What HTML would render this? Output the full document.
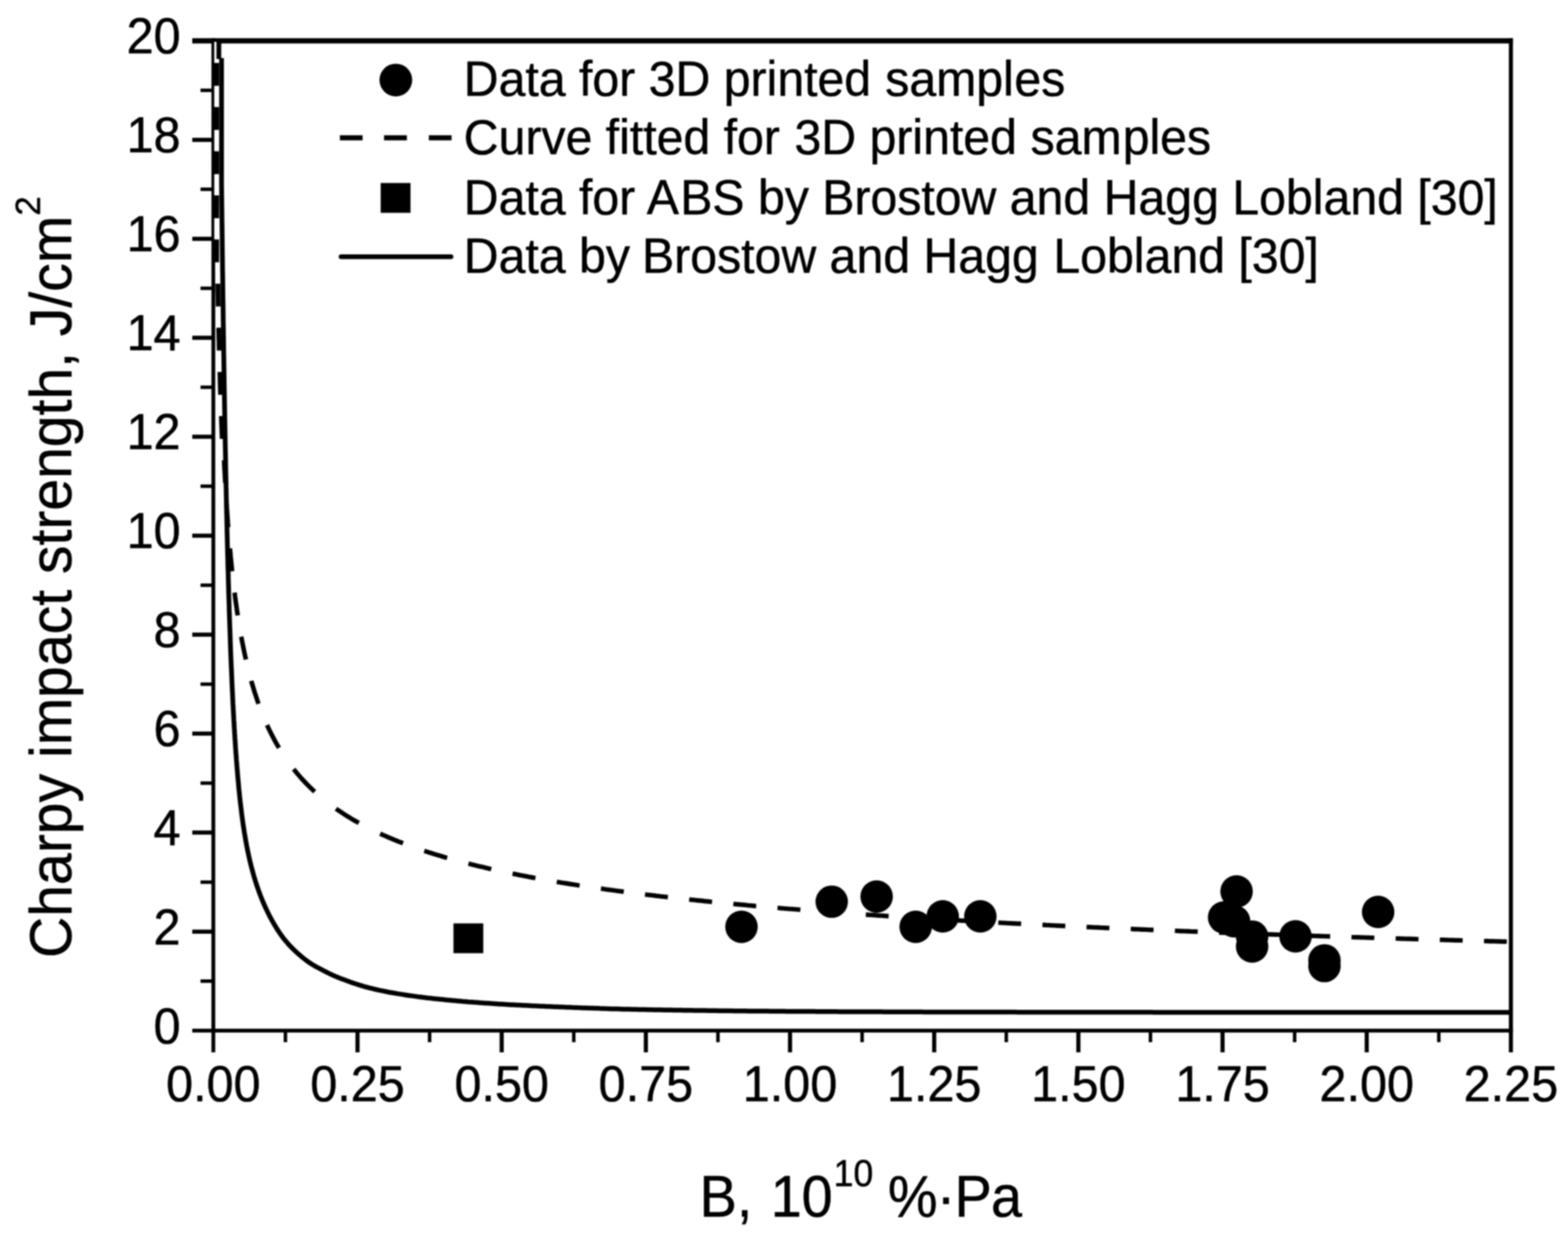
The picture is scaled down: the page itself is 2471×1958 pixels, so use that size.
<!DOCTYPE html>
<html lang="en">
<head>
<meta charset="utf-8">
<title>Charpy impact strength vs B</title>
<style>
html,body{margin:0;padding:0;background:#fff;}
body{width:2471px;height:1958px;overflow:hidden;}
svg{display:block;filter:blur(1.0px);}
</style>
</head>
<body>
<svg width="2471" height="1958" viewBox="0 0 2471 1958" font-family='"Liberation Sans", sans-serif' fill="#000">
<rect width="2471" height="1958" fill="#fff"/>
<defs><clipPath id="pc"><rect x="333.2" y="64.4" width="2047.8" height="1560.3"/></clipPath></defs>
<g stroke="#000" fill="none" stroke-linecap="butt">
<line x1="336.2" y1="60.2" x2="336.2" y2="1659" stroke-width="6.0"/>
<line x1="2381" y1="60.2" x2="2381" y2="1659" stroke-width="6.4"/>
<line x1="303" y1="1624.7" x2="2384.2" y2="1624.7" stroke-width="6.0"/>
<line x1="303" y1="64.4" x2="2384.2" y2="64.4" stroke-width="8.4"/>
<line x1="449.8" y1="1624.7" x2="449.8" y2="1643" stroke-width="5.5"/>
<line x1="563.4" y1="1624.7" x2="563.4" y2="1659" stroke-width="6.5"/>
<line x1="677" y1="1624.7" x2="677" y2="1643" stroke-width="5.5"/>
<line x1="790.6" y1="1624.7" x2="790.6" y2="1659" stroke-width="6.5"/>
<line x1="904.2" y1="1624.7" x2="904.2" y2="1643" stroke-width="5.5"/>
<line x1="1017.8" y1="1624.7" x2="1017.8" y2="1659" stroke-width="6.5"/>
<line x1="1131.4" y1="1624.7" x2="1131.4" y2="1643" stroke-width="5.5"/>
<line x1="1245" y1="1624.7" x2="1245" y2="1659" stroke-width="6.5"/>
<line x1="1358.6" y1="1624.7" x2="1358.6" y2="1643" stroke-width="5.5"/>
<line x1="1472.2" y1="1624.7" x2="1472.2" y2="1659" stroke-width="6.5"/>
<line x1="1585.8" y1="1624.7" x2="1585.8" y2="1643" stroke-width="5.5"/>
<line x1="1699.4" y1="1624.7" x2="1699.4" y2="1659" stroke-width="6.5"/>
<line x1="1813" y1="1624.7" x2="1813" y2="1643" stroke-width="5.5"/>
<line x1="1926.6" y1="1624.7" x2="1926.6" y2="1659" stroke-width="6.5"/>
<line x1="2040.2" y1="1624.7" x2="2040.2" y2="1643" stroke-width="5.5"/>
<line x1="2153.8" y1="1624.7" x2="2153.8" y2="1659" stroke-width="6.5"/>
<line x1="2267.4" y1="1624.7" x2="2267.4" y2="1643" stroke-width="5.5"/>
<line x1="316" y1="1546.7" x2="336.2" y2="1546.7" stroke-width="5.5"/>
<line x1="303" y1="1468.7" x2="336.2" y2="1468.7" stroke-width="6.5"/>
<line x1="316" y1="1390.7" x2="336.2" y2="1390.7" stroke-width="5.5"/>
<line x1="303" y1="1312.6" x2="336.2" y2="1312.6" stroke-width="6.5"/>
<line x1="316" y1="1234.6" x2="336.2" y2="1234.6" stroke-width="5.5"/>
<line x1="303" y1="1156.6" x2="336.2" y2="1156.6" stroke-width="6.5"/>
<line x1="316" y1="1078.6" x2="336.2" y2="1078.6" stroke-width="5.5"/>
<line x1="303" y1="1000.6" x2="336.2" y2="1000.6" stroke-width="6.5"/>
<line x1="316" y1="922.6" x2="336.2" y2="922.6" stroke-width="5.5"/>
<line x1="303" y1="844.6" x2="336.2" y2="844.6" stroke-width="6.5"/>
<line x1="316" y1="766.5" x2="336.2" y2="766.5" stroke-width="5.5"/>
<line x1="303" y1="688.5" x2="336.2" y2="688.5" stroke-width="6.5"/>
<line x1="316" y1="610.5" x2="336.2" y2="610.5" stroke-width="5.5"/>
<line x1="303" y1="532.5" x2="336.2" y2="532.5" stroke-width="6.5"/>
<line x1="316" y1="454.5" x2="336.2" y2="454.5" stroke-width="5.5"/>
<line x1="303" y1="376.5" x2="336.2" y2="376.5" stroke-width="6.5"/>
<line x1="316" y1="298.4" x2="336.2" y2="298.4" stroke-width="5.5"/>
<line x1="303" y1="220.4" x2="336.2" y2="220.4" stroke-width="6.5"/>
<line x1="316" y1="142.4" x2="336.2" y2="142.4" stroke-width="5.5"/>
</g>
<g clip-path="url(#pc)" fill="none">
<path d="M341.4 -3.9 L341.4 -0.8 L341.4 2.2 L341.4 5.3 L341.4 8.3 L341.4 11.4 L341.4 14.4 L341.4 17.5 L341.4 20.5 L341.4 23.6 L341.4 26.6 L341.4 29.7 M341.4 65.7 L341.4 68.7 L341.4 71.8 L341.4 74.8 L341.4 77.9 L341.4 80.9 L341.4 84 L341.4 87.1 L341.4 90.1 L341.4 93.2 L341.4 96.2 L341.4 99.3 M341.4 135.3 L341.4 138.3 L341.4 141.4 L341.4 144.4 L341.4 147.5 L341.4 150.5 L341.4 153.6 L341.4 156.6 L341.4 159.7 L341.4 162.7 L341.4 165.8 L341.4 168.8 M341.4 204.8 L341.4 207.9 L341.4 210.9 L341.4 214 L341.4 217.1 L341.4 220.1 L341.4 223.2 L341.4 226.2 L341.4 229.3 L341.4 232.3 L341.4 235.4 L341.4 238.4 M341.4 274.4 L341.4 277.5 L341.4 280.5 L341.4 283.6 L341.4 286.6 L341.4 289.7 L341.4 292.7 L341.4 295.8 L341.4 298.8 L341.4 301.9 L341.4 304.9 L341.4 308 M341.4 344 L341.4 347.1 L341.4 350.1 L341.4 353.2 L341.4 356.2 L341.4 359.3 L341.4 362.3 L341.4 365.4 L341.4 368.4 L341.4 371.5 L341.4 374.5 L341.4 377.6 M342.7 413.6 L342.7 416.6 L342.8 419.7 L342.8 422.7 L342.9 425.8 L342.9 428.8 L343 431.9 L343 435 L343.1 438 L343.1 441.1 L343.2 444.1 L343.3 447.2 M344 483.2 L344 486.2 L344.1 489.3 L344.2 492.3 L344.2 495.4 L344.3 498.4 L344.4 501.5 L344.4 504.5 L344.5 507.6 L344.6 510.6 L344.6 513.7 L344.7 516.7 M345.6 552.7 L345.7 555.8 L345.7 558.8 L345.8 561.9 L345.9 565 L346 568 L346.1 571.1 L346.1 574.1 L346.2 577.2 L346.3 580.2 L346.4 583.3 L346.5 586.3 M347.6 622.3 L347.7 625.4 L347.8 628.4 L347.9 631.5 L348 634.5 L348.1 637.6 L348.2 640.6 L348.3 643.7 L348.5 646.7 L348.6 649.8 L348.7 652.8 L348.8 655.9 M351.6 691.9 L351.7 695 L351.9 698 L352 701.1 L352.2 704.1 L352.3 707.2 L352.4 710.2 L352.6 713.3 L352.7 716.3 L352.9 719.4 L353 722.4 L353.1 725.5" stroke="#fff" stroke-width="7.5"/>
<path d="M353.1 725.5 L353.3 728.5 L353.4 731.5 L353.6 734.5 L353.7 737.5 L353.9 740.5 L354.1 743.5 L354.2 746.5 L354.4 749.5 L354.5 752.5 L354.7 755.5 L354.9 758.5 L355 761.5 M357.1 795.1 L357.3 798.1 L357.4 801.1 L357.7 804.1 L357.9 807.1 L358.1 810.1 L358.3 813.1 L358.5 816.1 L358.7 819.1 L358.9 822.1 L359.1 825.1 L359.4 828.1 L359.6 831.1 M362.3 864.6 L362.6 867.6 L362.9 870.6 L363.2 873.6 L363.4 876.6 L363.7 879.6 L364 882.6 L364.3 885.6 L364.6 888.6 L364.9 891.6 L365.2 894.6 L365.5 897.6 L365.8 900.6 M369.7 934.2 L370.1 937.2 L370.4 940.2 L370.8 943.2 L371.2 946.2 L371.6 949.2 L372 952.2 L372.5 955.2 L372.9 958.2 L373.3 961.2 L373.7 964.2 L374.2 967.2 L374.6 970.2 M380.2 1003.8 L380.8 1006.8 L381.3 1009.8 L381.9 1012.8 L382.5 1015.8 L383.1 1018.8 L383.7 1021.8 L384.3 1024.8 L384.9 1027.8 L385.6 1030.8 L386.2 1033.8 L386.9 1036.8 L387.5 1039.8 M396 1073.4 L396.8 1076.4 L397.7 1079.4 L398.6 1082.4 L399.5 1085.4 L400.4 1088.4 L401.3 1091.4 L402.3 1094.4 L403.3 1097.4 L404.3 1100.4 L405.3 1103.4 L406.3 1106.4 L407.4 1109.4 M420.9 1143 L422.2 1146 L423.6 1149 L425.1 1152 L426.5 1155 L428.1 1158 L429.6 1161 L431.2 1164 L432.8 1167 L434.4 1170 L436.1 1173 L437.9 1176 L439.6 1179 M462.8 1212.5 L465.2 1215.5 L467.6 1218.5 L470.2 1221.5 L472.8 1224.5 L475.4 1227.5 L478.2 1230.5 L481 1233.5 L483.9 1236.5 L486.9 1239.5 L489.9 1242.5 L492.9 1245.3 L495.9 1248.1 M529.5 1275 L532.5 1277.1 L535.5 1279.1 L538.5 1281.1 L541.5 1283.1 L544.5 1285 L547.5 1286.9 L550.5 1288.7 L553.5 1290.5 L556.5 1292.3 L559.5 1294 L562.5 1295.7 L565.5 1297.4 M599.1 1314.3 L602.1 1315.7 L605.1 1317 L608.1 1318.3 L611.1 1319.6 L614.1 1320.9 L617.1 1322.2 L620.1 1323.4 L623.1 1324.7 L626.1 1325.9 L629.1 1327.1 L632.1 1328.2 L635.1 1329.4 M668.6 1341.3 L671.6 1342.3 L674.6 1343.3 L677.6 1344.3 L680.6 1345.2 L683.6 1346.2 L686.6 1347.1 L689.6 1348 L692.6 1348.9 L695.6 1349.8 L698.6 1350.7 L701.6 1351.6 L704.6 1352.4 M738.2 1361.5 L741.2 1362.2 L744.2 1363 L747.2 1363.7 L750.2 1364.5 L753.2 1365.2 L756.2 1365.9 L759.2 1366.6 L762.2 1367.3 L765.2 1368 L768.2 1368.7 L771.2 1369.4 L774.2 1370.1 M807.8 1377.3 L810.8 1377.9 L813.8 1378.5 L816.8 1379.1 L819.8 1379.7 L822.8 1380.3 L825.8 1380.9 L828.8 1381.4 L831.8 1382 L834.8 1382.6 L837.8 1383.1 L840.8 1383.7 L843.8 1384.3 M877.4 1390.2 L880.4 1390.7 L883.4 1391.2 L886.4 1391.7 L889.4 1392.1 L892.4 1392.6 L895.4 1393.1 L898.4 1393.6 L901.4 1394.1 L904.4 1394.5 L907.4 1395 L910.4 1395.5 L913.4 1395.9 M947 1400.9 L950 1401.3 L953 1401.8 L956 1402.2 L959 1402.6 L962 1403 L965 1403.4 L968 1403.8 L971 1404.2 L974 1404.6 L977 1405 L980 1405.4 L983 1405.8 M1016.5 1410.1 L1019.5 1410.5 L1022.5 1410.8 L1025.5 1411.2 L1028.5 1411.5 L1031.5 1411.9 L1034.5 1412.3 L1037.5 1412.6 L1040.5 1413 L1043.5 1413.3 L1046.5 1413.7 L1049.5 1414 L1052.5 1414.3 M1086.1 1418 L1089.1 1418.4 L1092.1 1418.7 L1095.1 1419 L1098.1 1419.3 L1101.1 1419.6 L1104.1 1419.9 L1107.1 1420.2 L1110.1 1420.6 L1113.1 1420.9 L1116.1 1421.2 L1119.1 1421.5 L1122.1 1421.8 M1155.7 1425 L1158.7 1425.3 L1161.7 1425.6 L1164.7 1425.9 L1167.7 1426.2 L1170.7 1426.4 L1173.7 1426.7 L1176.7 1427 L1179.7 1427.3 L1182.7 1427.5 L1185.7 1427.8 L1188.7 1428.1 L1191.7 1428.3 M1225.3 1431.3 L1228.3 1431.5 L1231.3 1431.8 L1234.3 1432 L1237.3 1432.3 L1240.3 1432.5 L1243.3 1432.8 L1246.3 1433 L1249.3 1433.2 L1252.3 1433.5 L1255.3 1433.7 L1258.3 1434 L1261.3 1434.2 M1294.9 1436.8 L1298.1 1437.1 L1301.3 1437.3 L1304.5 1437.6 L1307.7 1437.8 L1311 1438 L1314.2 1438.3 L1317.4 1438.5 L1320.6 1438.8 L1323.9 1439 M1364.4 1441.9 L1367.4 1442.1 L1370.4 1442.3 L1373.4 1442.5 L1376.4 1442.7 L1379.4 1442.9 L1382.4 1443.1 L1385.4 1443.3 L1388.4 1443.5 L1391.4 1443.7 L1394.4 1443.9 L1397.4 1444.1 L1400.4 1444.3 M1434 1446.5 L1437 1446.6 L1440 1446.8 L1443 1447 L1446 1447.2 L1449 1447.4 L1452 1447.6 L1455 1447.8 L1458 1447.9 L1461 1448.1 L1464 1448.3 L1467 1448.5 L1470 1448.7 M1503.6 1450.7 L1506.6 1450.8 L1509.6 1451 L1512.6 1451.2 L1515.6 1451.3 L1518.6 1451.5 L1521.6 1451.7 L1524.6 1451.9 L1527.6 1452 L1530.6 1452.2 L1533.6 1452.4 L1536.6 1452.5 L1539.6 1452.7 M1573.2 1454.5 L1576.2 1454.7 L1579.2 1454.8 L1582.2 1455 L1585.2 1455.2 L1588.2 1455.3 L1591.2 1455.5 L1594.2 1455.6 L1597.2 1455.8 L1600.2 1455.9 L1603.2 1456.1 L1606.2 1456.2 L1609.2 1456.4 M1642.8 1458.1 L1645.8 1458.2 L1648.8 1458.4 L1651.8 1458.5 L1654.8 1458.7 L1657.8 1458.8 L1660.8 1459 L1663.8 1459.1 L1666.8 1459.3 L1669.8 1459.4 L1672.8 1459.6 L1675.8 1459.7 L1678.8 1459.8 M1712.3 1461.4 L1715.3 1461.6 L1718.3 1461.7 L1721.3 1461.8 L1724.3 1462 L1727.3 1462.1 L1730.3 1462.2 L1733.3 1462.4 L1736.3 1462.5 L1739.3 1462.6 L1742.3 1462.8 L1745.3 1462.9 L1748.3 1463 M1781.9 1464.5 L1784.9 1464.6 L1787.9 1464.8 L1790.9 1464.9 L1793.9 1465 L1796.9 1465.1 L1799.9 1465.3 L1802.9 1465.4 L1805.9 1465.5 L1808.9 1465.7 L1811.9 1465.8 L1814.9 1465.9 L1817.9 1466 M1851.5 1467.4 L1854.5 1467.5 L1857.5 1467.6 L1860.5 1467.8 L1863.5 1467.9 L1866.5 1468 L1869.5 1468.1 L1872.5 1468.2 L1875.5 1468.4 L1878.5 1468.5 L1881.5 1468.6 L1884.5 1468.7 L1887.5 1468.8 M1921.1 1470.1 L1924.1 1470.2 L1927.1 1470.3 L1930.1 1470.5 L1933.1 1470.6 L1936.1 1470.7 L1939.1 1470.8 L1942.1 1470.9 L1945.1 1471 L1948.1 1471.1 L1951.1 1471.2 L1954.1 1471.4 L1957.1 1471.5 M1990.7 1472.7 L1993.7 1472.8 L1996.7 1472.9 L1999.7 1473 L2002.7 1473.1 L2005.7 1473.2 L2008.7 1473.3 L2011.7 1473.4 L2014.7 1473.5 L2017.7 1473.6 L2020.7 1473.7 L2023.7 1473.8 L2026.7 1473.9 M2060.2 1475.1 L2063.2 1475.2 L2066.2 1475.3 L2069.2 1475.4 L2072.2 1475.5 L2075.2 1475.6 L2078.2 1475.7 L2081.2 1475.8 L2084.2 1475.9 L2087.2 1476 L2090.2 1476.1 L2093.2 1476.2 L2096.2 1476.3 M2129.8 1477.4 L2132.8 1477.5 L2135.8 1477.6 L2138.8 1477.7 L2141.8 1477.7 L2144.8 1477.8 L2147.8 1477.9 L2150.8 1478 L2153.8 1478.1 L2156.8 1478.2 L2159.8 1478.3 L2162.8 1478.4 L2165.8 1478.5 M2199.4 1479.5 L2202.4 1479.6 L2205.4 1479.7 L2208.4 1479.8 L2211.4 1479.9 L2214.4 1480 L2217.4 1480.1 L2220.4 1480.2 L2223.4 1480.2 L2226.4 1480.3 L2229.4 1480.4 L2232.4 1480.5 L2235.4 1480.6 M2269 1481.6 L2272 1481.7 L2275 1481.7 L2278 1481.8 L2281 1481.9 L2284 1482 L2287 1482.1 L2290 1482.2 L2293 1482.3 L2296 1482.3 L2299 1482.4 L2302 1482.5 L2305 1482.6 M2338.6 1483.5 L2341.6 1483.6 L2344.6 1483.7 L2347.6 1483.8 L2350.6 1483.9 L2353.6 1483.9 L2356.6 1484 L2359.6 1484.1 L2362.6 1484.2 L2365.6 1484.3 L2368.6 1484.3 L2371.6 1484.4 L2374.6 1484.5" stroke="#000" stroke-width="7.2"/>
<path d="M341.4 -13.6 L341.4 -10.4 L341.4 -7.1 L341.4 -3.9 M341.4 29.7 L341.4 32.7 L341.4 35.7 L341.4 38.7 L341.4 41.7 L341.4 44.7 L341.4 47.7 L341.4 50.7 L341.4 53.7 L341.4 56.7 L341.4 59.7 L341.4 62.7 L341.4 65.7 M341.4 99.3 L341.4 102.3 L341.4 105.3 L341.4 108.3 L341.4 111.3 L341.4 114.3 L341.4 117.3 L341.4 120.3 L341.4 123.3 L341.4 126.3 L341.4 129.3 L341.4 132.3 L341.4 135.3 M341.4 168.8 L341.4 171.8 L341.4 174.8 L341.4 177.8 L341.4 180.8 L341.4 183.8 L341.4 186.8 L341.4 189.8 L341.4 192.8 L341.4 195.8 L341.4 198.8 L341.4 201.8 L341.4 204.8 M341.4 238.4 L341.4 241.4 L341.4 244.4 L341.4 247.4 L341.4 250.4 L341.4 253.4 L341.4 256.4 L341.4 259.4 L341.4 262.4 L341.4 265.4 L341.4 268.4 L341.4 271.4 L341.4 274.4 M341.4 308 L341.4 311 L341.4 314 L341.4 317 L341.4 320 L341.4 323 L341.4 326 L341.4 329 L341.4 332 L341.4 335 L341.4 338 L341.4 341 L341.4 344 M341.4 377.6 L341.4 380.6 L341.4 383.6 L341.4 386.6 L341.4 389.6 L341.4 392.6 L341.4 395.6 L341.4 398.6 L341.4 401.6 L341.4 404.6 L341.4 407.6 L341.4 410.6 L341.4 413.6 M343.3 447.2 L343.3 450.2 L343.4 453.2 L343.4 456.2 L343.5 459.2 L343.5 462.2 L343.6 465.2 L343.7 468.2 L343.7 471.2 L343.8 474.2 L343.8 477.2 L343.9 480.2 L344 483.2 M344.7 516.7 L344.8 519.7 L344.8 522.7 L344.9 525.7 L345 528.7 L345 531.7 L345.1 534.7 L345.2 537.7 L345.3 540.7 L345.3 543.7 L345.4 546.7 L345.5 549.7 L345.6 552.7 M346.5 586.3 L346.6 589.3 L346.7 592.3 L346.8 595.3 L346.9 598.3 L346.9 601.3 L347 604.3 L347.1 607.3 L347.2 610.3 L347.3 613.3 L347.4 616.3 L347.5 619.3 L347.6 622.3 M348.8 655.9 L348.9 658.9 L349 661.9 L349.1 664.9 L349.2 667.9 L349.4 670.9 L349.5 673.9 L349.6 676.9 L349.7 679.9 L349.8 682.9 L350 685.9 L350.1 688.9 L350.2 691.9" stroke="#000" stroke-width="7.6"/>
<path d="M344.9 58V93 M349.1 91.5 L349.1 94.1 L349.1 98.4 L349.1 102.7 L349.1 107 L349.1 111.3 L349.1 115.6 L349.1 119.9 L349.1 124.2 L349.1 128.5 L349.1 132.8 L349.1 137.1 L349.1 141.4 L349.1 145.7 L349.1 150 L349.1 154.3 L349.1 158.6 L349.1 162.9 L349.1 167.2 L349.1 171.5 L349.1 175.8 L349.1 180.1 L349.1 184.3 L349.1 188.6 L349.1 192.9 L349.1 197.2 L349.1 201.5 L349.1 205.8 L349.1 210.1 L349.1 214.3 L349.1 218.6 L349.1 222.9 L349.1 227.2 L349.1 231.5 L349.1 235.7 L349.1 240 L349.1 244.3 L349.1 248.5 L349.1 252.8 L349.1 257.1 L349.1 261.3 L349.1 265.6 L349.1 269.8 L349.1 274.1 L349.1 278.4 L349.1 282.6 L349.1 286.9 L349.1 291.1 L349.2 295.3 L349.2 299.6 L349.3 303.8 L349.3 308.1 L349.4 312.3 L349.4 316.5 L349.5 320.8 L349.5 325 L349.6 329.2 L349.6 333.4 L349.7 337.6 L349.7 341.8 L349.8 346.1 L349.8 350.3 L349.9 354.5 L349.9 358.7 L350 362.9 L350 367.1 L350.1 371.2 L350.1 375.4 L350.2 379.6 L350.2 383.8 L350.3 388 L350.3 392.1 L350.4 396.3 L350.4 400.5 L350.5 404.6 L350.5 408.8 L350.6 412.9 L350.6 417.1 L350.7 421.2 L350.7 425.3 L350.8 429.5 L350.9 433.6 L350.9 437.7 L351 441.8 L351 446 L351.1 450.1 L351.1 454.2 L351.2 458.3 L351.2 462.4 L351.3 466.4 L351.3 470.5 L351.4 474.6 L351.5 478.7 L351.5 482.8 L351.6 486.8 L351.6 490.9 L351.7 494.9 L351.7 499 L351.8 503 L351.8 507.1 L351.9 511.1 L352 515.1 L352 519.1 L352.1 523.1 L352.1 527.1 L352.2 531.1 L352.3 535.1 L352.3 539.1 L352.4 543.1 L352.4 547.1 L352.5 551.1 L352.5 555 L352.6 559 L352.7 562.9 L352.7 566.9 L352.8 570.8 L352.8 574.7 L352.9 578.7 L353 582.6 L353 586.5 L353.1 590.4 L353.2 594.3 L353.2 598.2 L353.3 602.1 L353.3 606 L353.4 609.8 L353.5 613.7 L353.5 617.5 L353.6 621.4 L353.7 625.2 L353.7 629.1 L353.8 632.9 L353.8 636.7 L353.9 640.5 L354 644.3 L354 648.1 L354.1 651.9 L354.2 655.7 L354.2 659.5 L354.3 663.2 L354.4 667 L354.4 670.7 L354.5 674.5 L354.6 678.2 L354.6 681.9 L354.7 685.6 L354.8 689.3 L354.8 693 L354.9 696.7 L355 700.4 L355 704.1 L355.1 707.7 L355.2 711.4 L355.3 715.1 L355.3 718.7 L355.4 722.3 L355.5 725.9 L355.5 729.6 L355.6 733.2 L355.7 736.8 L355.7 740.3 L355.8 743.9 L355.9 747.5 L356 751.1 L356 754.6 L356.1 758.1 L356.2 761.7 L356.2 765.2 L356.3 768.7 L356.4 772.2 L356.5 775.7 L356.5 779.2 L356.6 782.7 L356.7 786.1 L356.8 789.6 L356.8 793 L356.9 796.5 L357 799.9 L357.1 803.3 L357.1 806.7 L357.2 810.1 L357.3 813.5 L357.4 816.9 L357.5 820.3 L357.5 823.6 L357.6 827 L357.7 830.3 L357.8 833.6 L357.8 837 L357.9 840.3 L358 843.6 L358.1 846.9 L358.2 850.1 L358.2 853.4 L358.3 856.7 L358.4 859.9 L358.5 863.1 L358.6 866.4 L358.6 869.6 L358.7 872.8 L358.8 876 L358.9 879.2 L359 882.3 L359.1 885.5 L359.1 888.7 L359.2 891.8 L359.3 894.9 L359.4 898.1 L359.5 901.2 L359.6 904.3 L359.7 907.4 L359.7 910.4 L359.8 913.5 L359.9 916.6 L360 919.6 L360.1 922.6 L360.2 925.7 L360.3 928.7 L360.3 931.7 L360.5 937.6 L360.7 943.6 L360.9 949.4 L361.1 955.3 L361.2 961.1 L361.4 966.8 L361.6 972.5 L361.8 978.2 L362 983.8 L362.2 989.4 L362.4 994.9 L362.6 1000.4 L362.8 1005.8 L362.9 1011.2 L363.1 1016.5 L363.3 1021.8 L363.5 1027.1 L363.7 1032.3 L363.9 1037.4 L364.1 1042.6 L364.3 1047.6 L364.6 1052.7 L364.8 1057.6 L365 1062.6 L365.2 1067.5 L365.4 1072.3 L365.6 1077.1 L365.8 1081.8 L366 1086.6 L366.3 1091.2 L366.5 1095.8 L366.7 1100.4 L366.9 1104.9 L367.1 1109.4 L367.4 1113.9 L367.6 1118.3 L367.8 1122.6 L368.1 1126.9 L368.3 1131.2 L368.5 1135.4 L368.8 1139.6 L369 1143.7 L369.2 1147.8 L369.5 1151.8 L369.7 1155.8 L370 1159.8 L370.2 1163.7 L370.5 1167.6 L370.7 1171.4 L371 1175.2 L371.2 1179 L371.5 1182.7 L371.7 1186.4 L372 1190 L372.3 1193.6 L372.5 1197.2 L372.8 1200.7 L373.1 1204.1 L373.3 1207.6 L373.6 1211 L373.9 1214.3 L374.2 1217.7 L374.4 1220.9 L374.7 1224.2 L375 1227.4 L375.3 1230.6 L375.6 1233.7 L375.9 1236.8 L376.1 1239.9 L376.4 1242.9 L376.7 1245.9 L377.2 1250.3 L377.6 1254.7 L378.1 1259 L378.5 1263.2 L379 1267.3 L379.5 1271.4 L380 1275.4 L380.4 1279.3 L380.9 1283.2 L381.4 1287 L381.9 1290.7 L382.4 1294.4 L382.9 1298 L383.4 1301.5 L384 1305 L384.5 1308.5 L385 1311.9 L385.6 1315.2 L386.1 1318.5 L386.7 1321.7 L387.2 1324.8 L387.8 1328 L388.3 1331 L388.9 1334.1 L389.5 1337.1 L390.3 1341 L391.1 1344.8 L391.9 1348.6 L392.7 1352.3 L393.5 1355.9 L394.4 1359.5 L395.2 1363 L396.1 1366.4 L397 1369.8 L397.9 1373.1 L398.8 1376.4 L399.7 1379.7 L400.6 1382.9 L401.6 1386 L402.5 1389.1 L403.5 1392.2 L404.5 1395.2 L405.5 1398.2 L406.5 1401.1 L407.5 1404 L408.6 1406.9 L409.7 1409.8 L410.7 1412.6 L412.1 1416.1 L413.5 1419.5 L414.9 1422.9 L416.4 1426.2 L417.8 1429.5 L419.4 1432.8 L420.9 1436 L422.4 1439.2 L424 1442.4 L425.6 1445.5 L427.3 1448.6 L429 1451.7 L430.7 1454.7 L432.4 1457.7 L434.2 1460.6 L436 1463.6 L437.8 1466.4 L439.7 1469.3 L441.6 1472.1 L443.5 1474.8 L445.5 1477.5 L447.5 1480.1 L449.6 1482.7 L451.7 1485.2 L453.8 1487.6 L456 1490 L458.2 1492.3 L460.4 1494.6 L462.7 1496.9 L465 1499.1 L467.4 1501.3 L469.8 1503.5 L472.3 1505.6 L474.8 1507.8 L477.3 1509.9 L479.9 1511.9 L482.6 1514 L485.2 1515.9 L488 1517.8 L490.8 1519.7 L493.6 1521.4 L496.5 1523.1 L499.5 1524.7 L502.5 1526.3 L505.5 1527.9 L508.7 1529.5 L511.8 1531.2 L515.1 1532.9 L518.4 1534.5 L521.7 1536.1 L525.1 1537.7 L527.9 1538.9 L530.7 1540.1 L533.6 1541.2 L536.5 1542.4 L539.4 1543.5 L542.4 1544.6 L545.4 1545.7 L548.5 1546.8 L551.6 1548 L554.8 1549.1 L558 1550.2 L561.3 1551.3 L564.6 1552.4 L567.9 1553.4 L571.3 1554.4 L574.8 1555.5 L578.3 1556.4 L581.9 1557.3 L585.5 1558.2 L589.1 1559.1 L592.8 1560 L596.6 1560.8 L600.4 1561.6 L604.3 1562.4 L607.3 1563 L610.3 1563.6 L613.3 1564.2 L616.3 1564.7 L619.4 1565.3 L622.5 1565.8 L625.7 1566.4 L628.9 1566.9 L632.1 1567.4 L635.3 1567.9 L638.6 1568.5 L642 1569 L645.3 1569.5 L648.7 1569.9 L652.2 1570.4 L655.6 1570.9 L659.1 1571.4 L662.7 1571.8 L666.3 1572.3 L669.9 1572.7 L673.6 1573.2 L677.3 1573.6 L681.1 1574 L684.9 1574.4 L688.7 1574.8 L692.6 1575.2 L696.5 1575.6 L700.5 1576 L704.5 1576.4 L708.5 1576.8 L712.6 1577.2 L716.8 1577.6 L720.9 1577.9 L725.2 1578.3 L729.5 1578.7 L733.8 1579 L738.2 1579.4 L742.6 1579.7 L747 1580.1 L750.1 1580.3 L753.1 1580.5 L756.1 1580.8 L759.2 1581 L762.3 1581.2 L765.4 1581.4 L768.6 1581.6 L771.7 1581.8 L774.9 1582.1 L778.1 1582.3 L781.4 1582.5 L784.6 1582.7 L787.9 1582.9 L791.2 1583.1 L794.6 1583.3 L797.9 1583.5 L801.3 1583.7 L804.7 1583.9 L808.1 1584 L811.6 1584.2 L815.1 1584.4 L818.6 1584.6 L822.1 1584.8 L825.7 1585 L829.2 1585.1 L832.8 1585.3 L836.5 1585.5 L840.1 1585.7 L843.8 1585.8 L847.6 1586 L851.3 1586.2 L855.1 1586.3 L858.9 1586.5 L862.7 1586.7 L866.5 1586.8 L870.4 1587 L874.3 1587.2 L878.3 1587.3 L882.3 1587.5 L886.2 1587.6 L890.3 1587.8 L894.3 1587.9 L898.4 1588.1 L902.5 1588.3 L906.7 1588.4 L910.9 1588.6 L915.1 1588.7 L919.3 1588.9 L923.6 1589 L927.9 1589.2 L932.2 1589.3 L936.6 1589.5 L941 1589.6 L945.4 1589.8 L949.9 1589.9 L954.3 1590.1 L958.9 1590.2 L963.4 1590.4 L968 1590.5 L972.6 1590.6 L977.3 1590.7 L982 1590.9 L986.7 1591 L991.5 1591.1 L996.3 1591.2 L1001.1 1591.3 L1006 1591.4 L1010.9 1591.5 L1015.8 1591.6 L1020.8 1591.7 L1025.8 1591.8 L1030.9 1591.9 L1036 1592 L1041.1 1592.1 L1046.2 1592.2 L1051.4 1592.2 L1056.7 1592.3 L1061.9 1592.4 L1067.3 1592.5 L1072.6 1592.6 L1078 1592.7 L1083.4 1592.7 L1088.9 1592.8 L1094.4 1592.9 L1100 1593 L1105.6 1593 L1111.2 1593.1 L1116.9 1593.2 L1122.6 1593.3 L1128.3 1593.3 L1134.1 1593.4 L1140 1593.5 L1145.9 1593.5 L1151.8 1593.6 L1157.8 1593.7 L1160.8 1593.7 L1163.8 1593.7 L1166.8 1593.7 L1169.8 1593.8 L1172.9 1593.8 L1175.9 1593.8 L1179 1593.9 L1182.1 1593.9 L1185.2 1593.9 L1188.3 1593.9 L1191.4 1594 L1194.5 1594 L1197.7 1594 L1200.8 1594.1 L1204 1594.1 L1207.1 1594.1 L1210.3 1594.1 L1213.5 1594.2 L1216.7 1594.2 L1219.9 1594.2 L1223.2 1594.2 L1226.4 1594.3 L1229.7 1594.3 L1232.9 1594.3 L1236.2 1594.3 L1239.5 1594.4 L1242.8 1594.4 L1246.1 1594.4 L1249.4 1594.4 L1252.8 1594.4 L1256.1 1594.5 L1259.5 1594.5 L1262.9 1594.5 L1266.2 1594.5 L1269.6 1594.6 L1273 1594.6 L1276.5 1594.6 L1279.9 1594.6 L1283.4 1594.6 L1286.8 1594.7 L1290.3 1594.7 L1293.8 1594.7 L1297.3 1594.7 L1300.8 1594.7 L1304.3 1594.8 L1307.8 1594.8 L1311.4 1594.8 L1315 1594.8 L1318.5 1594.8 L1322.1 1594.9 L1325.7 1594.9 L1329.3 1594.9 L1333 1594.9 L1336.6 1594.9 L1340.3 1594.9 L1343.9 1595 L1347.6 1595 L1351.3 1595 L1355 1595 L1358.8 1595 L1362.5 1595 L1366.2 1595.1 L1370 1595.1 L1373.8 1595.1 L1377.6 1595.1 L1381.4 1595.1 L1385.2 1595.1 L1389 1595.1 L1392.9 1595.2 L1396.7 1595.2 L1400.6 1595.2 L1404.5 1595.2 L1408.4 1595.2 L1412.3 1595.2 L1416.3 1595.2 L1420.2 1595.2 L1424.2 1595.3 L1428.1 1595.3 L1432.1 1595.3 L1436.1 1595.3 L1440.2 1595.3 L1444.2 1595.3 L1448.2 1595.3 L1452.3 1595.3 L1456.4 1595.4 L1460.5 1595.4 L1464.6 1595.4 L1468.7 1595.4 L1472.8 1595.4 L1477 1595.4 L1481.2 1595.4 L1485.3 1595.4 L1489.5 1595.4 L1493.8 1595.5 L1498 1595.5 L1502.2 1595.5 L1506.5 1595.5 L1510.8 1595.5 L1515.1 1595.5 L1519.4 1595.5 L1523.7 1595.5 L1528 1595.5 L1532.4 1595.5 L1536.8 1595.5 L1541.1 1595.6 L1545.5 1595.6 L1550 1595.6 L1554.4 1595.6 L1558.9 1595.6 L1563.3 1595.6 L1567.8 1595.6 L1572.3 1595.6 L1576.8 1595.6 L1581.4 1595.6 L1585.9 1595.6 L1590.5 1595.6 L1595.1 1595.6 L1599.7 1595.6 L1604.3 1595.7 L1608.9 1595.7 L1613.6 1595.7 L1618.2 1595.7 L1622.9 1595.7 L1627.6 1595.7 L1632.3 1595.7 L1637.1 1595.7 L1641.8 1595.7 L1646.6 1595.7 L1651.4 1595.7 L1656.2 1595.7 L1661 1595.7 L1665.8 1595.7 L1670.7 1595.7 L1675.6 1595.7 L1680.5 1595.7 L1685.4 1595.8 L1690.3 1595.8 L1695.3 1595.8 L1700.2 1595.8 L1705.2 1595.8 L1710.2 1595.8 L1715.2 1595.8 L1720.3 1595.8 L1725.3 1595.8 L1730.4 1595.8 L1735.5 1595.8 L1740.6 1595.8 L1745.7 1595.8 L1750.9 1595.8 L1756.1 1595.8 L1761.3 1595.8 L1766.5 1595.8 L1771.7 1595.8 L1776.9 1595.8 L1782.2 1595.8 L1787.5 1595.8 L1792.8 1595.8 L1798.1 1595.8 L1803.5 1595.8 L1808.8 1595.8 L1814.2 1595.8 L1819.6 1595.9 L1825 1595.9 L1830.5 1595.9 L1835.9 1595.9 L1841.4 1595.9 L1846.9 1595.9 L1852.4 1595.9 L1858 1595.9 L1863.5 1595.9 L1869.1 1595.9 L1874.7 1595.9 L1880.3 1595.9 L1886 1595.9 L1891.6 1595.9 L1897.3 1595.9 L1903 1595.9 L1908.7 1595.9 L1914.5 1595.9 L1920.2 1595.9 L1926 1595.9 L1931.8 1595.9 L1937.7 1595.9 L1943.5 1595.9 L1949.4 1595.9 L1955.3 1595.9 L1961.2 1595.9 L1967.2 1595.9 L1973.1 1595.9 L1979.1 1595.9 L1985.1 1595.9 L1991.1 1595.9 L1997.2 1595.9 L2003.2 1595.9 L2009.3 1595.9 L2015.4 1595.9 L2021.6 1595.9 L2027.7 1595.9 L2033.9 1595.9 L2040.1 1595.9 L2046.3 1595.9 L2052.6 1595.9 L2058.9 1595.9 L2065.2 1595.9 L2071.5 1595.9 L2077.8 1595.9 L2084.2 1595.9 L2090.6 1595.9 L2097 1595.9 L2103.4 1595.9 L2109.9 1595.9 L2116.4 1595.9 L2122.9 1595.9 L2129.4 1595.9 L2135.9 1595.9 L2142.5 1595.9 L2149.1 1595.9 L2155.7 1595.9 L2162.4 1595.9 L2169.1 1595.9 L2175.8 1595.9 L2182.5 1596 L2189.2 1596 L2196 1596 L2202.8 1596 L2209.6 1596 L2216.5 1596 L2223.3 1596 L2230.2 1596 L2237.1 1596 L2244.1 1596 L2251.1 1596 L2258.1 1596 L2265.1 1596 L2272.1 1596 L2279.2 1596 L2286.3 1596 L2293.4 1596 L2300.6 1596 L2307.8 1596 L2315 1596 L2322.2 1596 L2329.5 1596 L2336.7 1596 L2344 1596 L2351.4 1596 L2358.7 1596 L2366.1 1596 L2373.6 1596 L2381 1596" stroke="#000" stroke-width="7.5" stroke-linejoin="round"/>
</g>
<circle cx="1168.5" cy="1461.1" r="25.6"/>
<circle cx="1310.7" cy="1421.5" r="25.6"/>
<circle cx="1381.5" cy="1413.4" r="25.6"/>
<circle cx="1443" cy="1461.1" r="25.6"/>
<circle cx="1485.6" cy="1444.7" r="25.6"/>
<circle cx="1544.9" cy="1444.7" r="25.6"/>
<circle cx="1948.7" cy="1405.4" r="25.6"/>
<circle cx="1929" cy="1446.3" r="25.6"/>
<circle cx="1944.8" cy="1452.4" r="25.6"/>
<circle cx="1973.2" cy="1476.5" r="25.6"/>
<circle cx="1973.2" cy="1492.1" r="25.6"/>
<circle cx="2041.6" cy="1476.2" r="25.6"/>
<circle cx="2087.2" cy="1514" r="25.6"/>
<circle cx="2087.2" cy="1523" r="25.6"/>
<circle cx="2171.8" cy="1437.7" r="25.6"/>
<rect x="714.6" y="1455.7" width="47" height="47"/>
<circle cx="623.8" cy="126.2" r="25.8"/>
<rect x="599.9" y="288.5" width="47" height="47"/>
<path d="M535.6 217.2H571.4M605.2 217.2H641.2M675.8 217.2H711.6" stroke="#000" stroke-width="8" fill="none"/>
<line x1="537.5" y1="404.7" x2="710.7" y2="404.7" stroke="#000" stroke-width="7.5" stroke-linecap="round"/>
<g stroke="#000" stroke-width="0.7" stroke-linejoin="round">
<text transform="translate(730.8 151.2) scale(1 1.02)" font-size="76">Data for 3D printed <tspan dx="1">sampl</tspan><tspan dx="1">es</tspan></text>
<text transform="translate(730.8 243.4) scale(1 1.02)" font-size="76">Curve fitted for <tspan dx="1.7">3D printed </tspan><tspan dx="0.3">sam</tspan><tspan dx="1.7">ples</tspan></text>
<text transform="translate(730.8 338.0) scale(1 1.02)" font-size="76">Data for <tspan dx="-3">A</tspan><tspan dx="2">BS by Brostow and Hagg Lobland [30]</tspan></text>
<text transform="translate(730.8 430.2) scale(1 1.02)" font-size="76">Data by <tspan dx="-2">Brostow and Hagg </tspan><tspan dx="2">Lobland [30]</tspan></text>
<text transform="translate(336.2 1735.8) scale(1 1.045)" font-size="76.5" text-anchor="middle">0.00</text>
<text transform="translate(563.4 1735.8) scale(1 1.045)" font-size="76.5" text-anchor="middle">0.25</text>
<text transform="translate(790.6 1735.8) scale(1 1.045)" font-size="76.5" text-anchor="middle">0.50</text>
<text transform="translate(1017.8 1735.8) scale(1 1.045)" font-size="76.5" text-anchor="middle">0.75</text>
<text transform="translate(1245 1735.8) scale(1 1.045)" font-size="76.5" text-anchor="middle">1.00</text>
<text transform="translate(1472.2 1735.8) scale(1 1.045)" font-size="76.5" text-anchor="middle">1.25</text>
<text transform="translate(1699.4 1735.8) scale(1 1.045)" font-size="76.5" text-anchor="middle">1.50</text>
<text transform="translate(1926.6 1735.8) scale(1 1.045)" font-size="76.5" text-anchor="middle">1.75</text>
<text transform="translate(2153.8 1735.8) scale(1 1.045)" font-size="76.5" text-anchor="middle">2.00</text>
<text transform="translate(2381 1735.8) scale(1 1.045)" font-size="76.5" text-anchor="middle">2.25</text>
<text transform="translate(284.5 1644.5) scale(1 1.045)" font-size="76.5" text-anchor="end">0</text>
<text transform="translate(284.5 1488.5) scale(1 1.045)" font-size="76.5" text-anchor="end">2</text>
<text transform="translate(284.5 1332.4) scale(1 1.045)" font-size="76.5" text-anchor="end">4</text>
<text transform="translate(284.5 1176.4) scale(1 1.045)" font-size="76.5" text-anchor="end">6</text>
<text transform="translate(284.5 1020.4) scale(1 1.045)" font-size="76.5" text-anchor="end">8</text>
<text transform="translate(284.5 864.4) scale(1 1.045)" font-size="76.5" text-anchor="end">10</text>
<text transform="translate(284.5 708.3) scale(1 1.045)" font-size="76.5" text-anchor="end">12</text>
<text transform="translate(284.5 552.3) scale(1 1.045)" font-size="76.5" text-anchor="end">14</text>
<text transform="translate(284.5 396.3) scale(1 1.045)" font-size="76.5" text-anchor="end">16</text>
<text transform="translate(284.5 240.2) scale(1 1.045)" font-size="76.5" text-anchor="end">18</text>
<text transform="translate(284.5 84.2) scale(1 1.045)" font-size="76.5" text-anchor="end">20</text>
<text transform="translate(1102.6 1918.4) scale(1 1.045)" font-size="88">B, <tspan dx="4.2">10</tspan><tspan font-size="56" dx="1.6" dy="-46.5">10</tspan><tspan dy="46.5" dx="-1.3"> %</tspan><tspan dx="-1.2">·</tspan><tspan dx="-1.3">P</tspan><tspan dx="-1.3">a</tspan></text>
<text transform="translate(111.8 1510.2) rotate(-90) scale(1 1.02)" font-size="90">Charpy impact strength, J/cm<tspan font-size="55" dy="-47.5">2</tspan></text>
</g>
</svg>
</body>
</html>
